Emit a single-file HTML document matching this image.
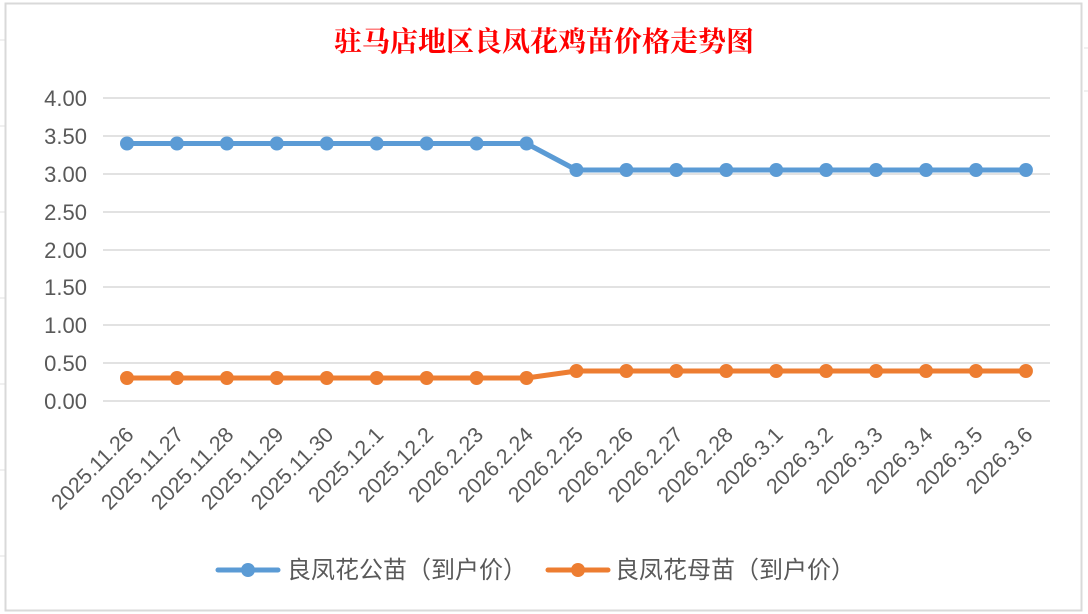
<!DOCTYPE html>
<html><head><meta charset="utf-8"><style>
html,body{margin:0;padding:0;background:#fff;}
svg{display:block;}
</style></head><body>
<svg width="1088" height="614" xmlns="http://www.w3.org/2000/svg" font-family="'Liberation Sans','Noto Sans CJK SC',sans-serif">
<rect x="0" y="0" width="1088" height="614" fill="#fff"/>
<g stroke="#e0e0e0" stroke-width="1">
<line x1="1084" y1="48" x2="1088" y2="48"/><line x1="1084" y1="91" x2="1088" y2="91"/>
<line x1="0" y1="40" x2="5" y2="40"/><line x1="0" y1="126" x2="5" y2="126"/><line x1="0" y1="212" x2="5" y2="212"/><line x1="0" y1="298" x2="5" y2="298"/><line x1="0" y1="384" x2="5" y2="384"/><line x1="0" y1="470" x2="5" y2="470"/><line x1="0" y1="556" x2="5" y2="556"/>
</g>
<rect x="5.5" y="3.5" width="1076" height="607" fill="#fff" stroke="#d9d9d9" stroke-width="2"/>
<text x="544" y="51" text-anchor="middle" font-family="'Liberation Serif','Noto Serif CJK SC',serif" font-size="28" font-weight="bold" fill="#ff0000">驻马店地区良凤花鸡苗价格走势图</text>
<g stroke="#d9d9d9" stroke-width="1.5">
<line x1="103" y1="98" x2="1050" y2="98"/><line x1="103" y1="136" x2="1050" y2="136"/><line x1="103" y1="174" x2="1050" y2="174"/><line x1="103" y1="212" x2="1050" y2="212"/><line x1="103" y1="250" x2="1050" y2="250"/><line x1="103" y1="287" x2="1050" y2="287"/><line x1="103" y1="325" x2="1050" y2="325"/><line x1="103" y1="363" x2="1050" y2="363"/><line x1="103" y1="401" x2="1050" y2="401"/>
</g>
<g font-size="22" fill="#595959" text-anchor="end">
<text x="87" y="106">4.00</text><text x="87" y="144">3.50</text><text x="87" y="182">3.00</text><text x="87" y="220">2.50</text><text x="87" y="258">2.00</text><text x="87" y="295">1.50</text><text x="87" y="333">1.00</text><text x="87" y="371">0.50</text><text x="87" y="409">0.00</text>
</g>
<g font-size="21.5" fill="#595959" text-anchor="end" id="xl"></g>
<polyline fill="none" stroke="#5b9bd5" stroke-width="5" stroke-linejoin="round" id="pb"/>
<polyline fill="none" stroke="#ed7d31" stroke-width="5" stroke-linejoin="round" id="po"/>
<g id="mk"></g>
<line x1="218" y1="570" x2="278" y2="570" stroke="#5b9bd5" stroke-width="5" stroke-linecap="round"/>
<circle cx="248" cy="570" r="7" fill="#5b9bd5"/>
<text x="287" y="578" font-size="24" fill="#595959">良凤花公苗（到户价）</text>
<line x1="548" y1="570" x2="608" y2="570" stroke="#ed7d31" stroke-width="5" stroke-linecap="round"/>
<circle cx="578" cy="570" r="7" fill="#ed7d31"/>
<text x="615" y="578" font-size="24" fill="#595959">良凤花母苗（到户价）</text>
<script>
var L=["2025.11.26","2025.11.27","2025.11.28","2025.11.29","2025.11.30","2025.12.1","2025.12.2","2026.2.23","2026.2.24","2026.2.25","2026.2.26","2026.2.27","2026.2.28","2026.3.1","2026.3.2","2026.3.3","2026.3.4","2026.3.5","2026.3.6"];
var ns="http://www.w3.org/2000/svg",xl=document.getElementById('xl'),mk=document.getElementById('mk');
var pb=[],po=[];
for(var i=0;i<19;i++){var x=127+i*49.94;
var yb=i<9?143.5:170, yo=i<9?378:371;
pb.push(x+","+yb);po.push(x+","+yo);
var t=document.createElementNS(ns,'text');t.setAttribute('transform','translate('+(x+8)+',436) rotate(-45)');t.textContent=L[i];xl.appendChild(t);
[[yb,'#5b9bd5'],[yo,'#ed7d31']].forEach(function(p){var c=document.createElementNS(ns,'circle');c.setAttribute('cx',x);c.setAttribute('cy',p[0]);c.setAttribute('r',7);c.setAttribute('fill',p[1]);mk.appendChild(c);});
}
document.getElementById('pb').setAttribute('points',pb.join(' '));
document.getElementById('po').setAttribute('points',po.join(' '));
</script>
</svg>
</body></html>
